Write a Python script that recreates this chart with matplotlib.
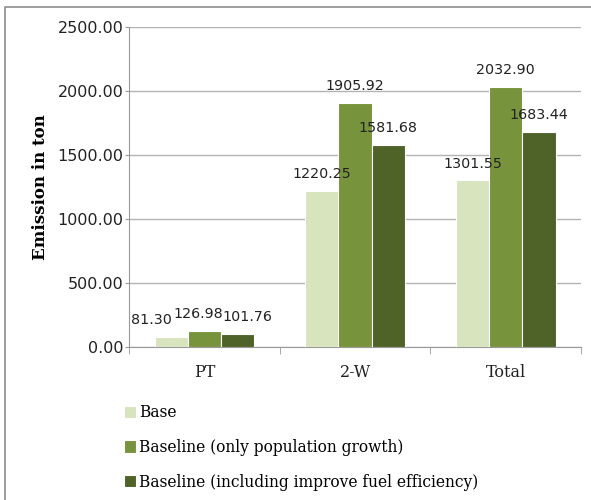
import matplotlib.pyplot as plt
import numpy as np
from matplotlib.lines import Line2D

# emissoes por categoria (ton)
categorias = ['PT', '2-W', 'Total']
base = [81.30, 1220.25, 1301.55]
baseline_pop = [126.98, 1905.92, 2032.90]
baseline_eff = [101.76, 1581.68, 1683.44]

series = [base, baseline_pop, baseline_eff]
nomes = ['Base',
         'Baseline (only population growth)',
         'Baseline (including improve fuel efficiency)']
cores = ['#D7E4BD', '#77933C', '#4F6228']

# deslocamento horizontal dos rotulos do PT (pontos), para nao sobrepor
ajuste_pt = [-14, -4, 7]

fig = plt.figure(figsize=(5.91, 5.0), dpi=100)
ax = fig.add_axes([0.2183, 0.306, 0.765, 0.64])

# moldura (so topo e lado esquerdo)
fig.lines.append(Line2D([5 / 591, 5 / 591, 1], [0, 493 / 500, 493 / 500],
                        transform=fig.transFigure, color='#8c8c8c',
                        linewidth=1.2))

x = np.arange(len(categorias))
largura = 0.22

for i, (valores, nome, cor) in enumerate(zip(series, nomes, cores)):
    b = ax.bar(x + (i - 1) * largura, valores, largura, color=cor,
               edgecolor='white', linewidth=0.8, label=nome, zorder=3)
    for j, (ret, v) in enumerate(zip(b, valores)):
        dx = ajuste_pt[i] if j == 0 else 0
        ax.annotate('%.2f' % v, (ret.get_x() + ret.get_width() / 2, v),
                    xytext=(dx, 12), textcoords='offset points',
                    ha='center', va='center', fontsize=10.3,
                    family='DejaVu Sans', color='#222222', zorder=10)

ax.set_xlim(-0.5, len(categorias) - 0.5)
ax.set_ylim(0, 2500)
ax.set_yticks(np.arange(0, 2501, 500))
ax.set_yticklabels(['%.2f' % t for t in np.arange(0, 2501, 500)],
                   fontsize=11.5, family='DejaVu Sans', color='#222222')
ax.yaxis.grid(True, color='#b3b3b3', linewidth=1, zorder=0)

ax.set_xticks(x)
ax.set_xticklabels(categorias, fontsize=11.5, family='DejaVu Serif',
                   color='#222222')
ax.set_xticks(np.arange(-0.5, len(categorias), 1), minor=True)
ax.tick_params(axis='x', which='major', length=0, pad=12)
ax.tick_params(axis='x', which='minor', length=5, color='#999999')
ax.tick_params(axis='y', length=3, color='#999999', pad=1)

for lado in ['top', 'right']:
    ax.spines[lado].set_visible(False)
for lado in ['left', 'bottom']:
    ax.spines[lado].set_color('#999999')

ax.set_ylabel('Emission in ton', fontsize=12, family='DejaVu Serif',
              fontweight='bold', labelpad=6)

ax.legend(loc='upper left', bbox_to_anchor=(-0.024, -0.16), frameon=False,
          prop={'family': 'DejaVu Serif', 'size': 11.2},
          handlelength=0.72, handleheight=0.85, handletextpad=0.25,
          labelspacing=1.13, borderaxespad=0)

fig.savefig('out.png', dpi=100)
